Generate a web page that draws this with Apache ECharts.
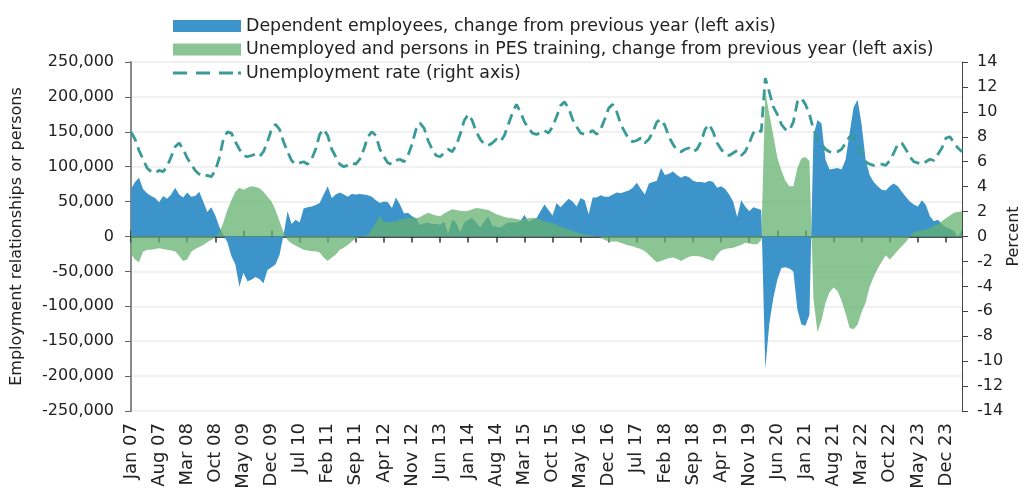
<!DOCTYPE html>
<html>
<head>
<meta charset="utf-8">
<script src="https://cdn.jsdelivr.net/npm/echarts@6/dist/echarts.min.js"></script>
<style>
  html, body { margin: 0; padding: 0; background: #fff; }
  #chart { width: 1021px; height: 488px; }
</style>
</head>
<body>
<div id="chart"></div>
<script>
// monthly, Jan 07 .. Apr 24
var monthNames = ['Jan', 'Feb', 'Mar', 'Apr', 'May', 'Jun', 'Jul', 'Aug', 'Sep', 'Oct', 'Nov', 'Dec'];
var firstYear = 2007;
var lastYear = 2024;
var lastMonth = 3; // Apr

var categories = [];
for (var y = firstYear; y <= lastYear; y++) {
  for (var m = 0; m < 12; m++) {
    if (y === lastYear && m > lastMonth) break;
    categories.push(monthNames[m] + ' ' + String(y).slice(2));
  }
}

// Dependent employees, change from previous year
var dependentEmployees = [
  68000, 78000, 84000, 68000, 62000, 58000, 55000, 49000, 58000, 54000, 60000, 70000,
  60000, 56000, 63000, 57000, 58000, 64000, 50000, 35000, 42000, 30000, 14000, 2000,
  -8000, -28000, -40000, -72000, -52000, -64000, -62000, -58000, -61000, -67000, -48000, -44000,
  -40000, -26000, 2000, 36000, 18000, 24000, 20000, 40000, 42000, 43000, 45000, 48000,
  60000, 72000, 55000, 60000, 63000, 60000, 57000, 61000, 60000, 61000, 60000, 59000,
  57000, 52000, 48000, 50000, 49000, 41000, 56000, 46000, 33000, 34000, 29000, 26000,
  17000, 19000, 20000, 18000, 18000, 17000, 21000, 4000, 24000, 20000, 6000, 20000,
  24000, 27000, 20000, 13000, 22000, 29000, 15000, 14000, 13000, 17000, 20000, 20000,
  20000, 22000, 31000, 21000, 24000, 26000, 36000, 46000, 38000, 30000, 48000, 42000,
  48000, 54000, 50000, 43000, 55000, 52000, 32000, 56000, 56000, 59000, 57000, 57000,
  60000, 63000, 62000, 64000, 66000, 70000, 77000, 68000, 60000, 76000, 78000, 80000,
  98000, 88000, 90000, 93000, 88000, 84000, 87000, 85000, 80000, 78000, 78000, 77000,
  80000, 78000, 70000, 72000, 68000, 60000, 50000, 28000, 52000, 43000, 36000, 42000,
  40000, 38000, -190000, -125000, -88000, -62000, -45000, -44000, -46000, -50000, -105000, -126000,
  -128000, -112000, 145000, 167000, 162000, 110000, 96000, 97000, 98000, 96000, 110000, 148000,
  185000, 196000, 160000, 110000, 88000, 78000, 72000, 67000, 66000, 72000, 76000, 72000,
  64000, 57000, 50000, 46000, 43000, 52000, 45000, 29000, 22000, 24000, 18000, 13000,
  11000, 8000, -2000, 10000
];

// Unemployed and persons in PES training, change from previous year
var unemployedPES = [
  -25000, -33000, -37000, -22000, -19000, -19000, -18000, -17000, -18000, -19000, -20000, -21000,
  -28000, -35000, -33000, -22000, -18000, -15000, -12000, -8000, -5000, -1000, 5000, 20000,
  38000, 52000, 64000, 70000, 67000, 70000, 72000, 71000, 69000, 64000, 57000, 50000,
  38000, 22000, 6000, -5000, -10000, -13000, -16000, -19000, -20000, -21000, -21000, -23000,
  -30000, -35000, -30000, -26000, -19000, -16000, -12000, -7000, -3000, 0, 1000, 2000,
  10000, 20000, 29000, 21000, 20000, 21000, 22000, 24000, 25000, 26000, 27000, 26000,
  28000, 31000, 34000, 32000, 30000, 29000, 33000, 36000, 39000, 38000, 37000, 36000,
  37000, 39000, 41000, 40000, 39000, 38000, 35000, 32000, 30000, 28000, 27000, 26000,
  25000, 24000, 25000, 26000, 27000, 26000, 24000, 22000, 20000, 19000, 17000, 14000,
  12000, 10000, 8000, 6000, 4000, 3000, 2000, 1000, 0, -1000, -5000, -7000,
  -7000, -7000, -9000, -11000, -13000, -14000, -16000, -18000, -21000, -26000, -32000, -37000,
  -35000, -33000, -31000, -30000, -32000, -35000, -32000, -29000, -28000, -28000, -29000, -31000,
  -33000, -35000, -26000, -20000, -18000, -17000, -16000, -14000, -12000, -9000, -10000, -11000,
  -11000, -5000, 208000, 175000, 145000, 113000, 95000, 80000, 72000, 72000, 98000, 112000,
  114000, 108000, -90000, -137000, -120000, -95000, -80000, -73000, -78000, -92000, -110000, -131000,
  -133000, -126000, -108000, -95000, -72000, -58000, -46000, -36000, -27000, -33000, -27000, -20000,
  -14000, -8000, 0, 6000, 8000, 9000, 10000, 12000, 15000, 18000, 22000, 26000,
  30000, 34000, 35000, 36000
];

// Unemployment rate, percent
var unemploymentRate = [
  8.4, 7.8, 6.9, 6.2, 5.5, 5.2, 5.1, 5.3, 5.2, 5.6, 6.4, 7.2,
  7.5, 7.0, 6.3, 5.8, 5.3, 5.0, 4.8, 4.9, 4.8, 5.3, 6.3, 7.8,
  8.4, 8.3, 7.6, 7.0, 6.5, 6.4, 6.5, 6.6, 6.4, 6.8, 7.6, 8.6,
  9.0, 8.6, 7.6, 6.8, 6.1, 5.8, 5.9, 6.0, 5.8, 6.2, 7.0, 8.2,
  8.6, 8.1, 7.0, 6.4, 5.8, 5.6, 5.7, 5.9, 5.8, 6.2, 7.0, 8.0,
  8.4, 8.1, 7.0, 6.4, 5.9, 5.8, 6.1, 6.2, 6.0, 6.5, 7.4, 8.6,
  9.1, 8.7, 7.7, 7.0, 6.5, 6.4, 6.7, 7.0, 6.8, 7.3, 8.2, 9.3,
  9.8, 9.3, 8.4, 7.8, 7.4, 7.3, 7.5, 7.8, 7.6, 8.1, 9.0, 9.9,
  10.6, 10.0, 9.2, 8.7, 8.3, 8.2, 8.3, 8.5, 8.3, 8.8, 9.6, 10.5,
  10.8, 10.3, 9.4, 8.8, 8.3, 8.2, 8.3, 8.5, 8.2, 8.6, 9.4, 10.3,
  10.6, 10.0, 9.0, 8.4, 7.8, 7.6, 7.7, 7.9, 7.5, 7.8, 8.4, 9.2,
  9.4, 8.9, 8.0, 7.4, 6.9, 6.8, 7.0, 7.1, 6.8, 7.0, 7.6, 8.6,
  9.0, 8.4, 7.5, 7.0, 6.6, 6.5, 6.7, 6.9, 6.5, 6.8, 7.5, 8.3,
  8.6, 8.4, 12.7, 11.6, 10.4, 9.8, 9.0, 8.6, 8.5, 9.2, 10.8, 11.1,
  10.6, 9.8, 8.6, 7.8, 7.4, 7.0, 6.8, 6.7, 6.8, 7.0, 7.5, 8.0,
  8.0, 7.4, 6.6, 6.0, 5.8, 5.7, 5.8, 5.8, 5.7, 6.1, 6.7, 7.4,
  7.5, 7.0, 6.4, 6.0, 5.9, 5.8, 6.0, 6.2, 6.1, 6.6, 7.1, 7.9,
  8.0, 7.5, 7.1, 6.8
];

var seriesNames = [
  'Dependent employees, change from previous year (left axis)',
  'Unemployed and persons in PES training, change from previous year (left axis)',
  'Unemployment rate (right axis)'
];

var FONT = 'DejaVu Sans';

// dashed legend icon (68 x 3)
var dashIcon = 'path://M0,0h14v3h-14z M23,0h14v3h-14z M46,0h14v3h-14z M65,0h3v3h-3z';

var chart = echarts.init(document.getElementById('chart'), null, { renderer: 'canvas' });

var option = {
  animation: false,
  textStyle: { fontFamily: FONT },
  grid: { left: 131, right: 59, top: 62, bottom: 77, outerBoundsMode: 'none' },
  legend: {
    orient: 'vertical',
    left: 173,
    top: 16,
    padding: 0,
    itemWidth: 68,
    itemHeight: 12,
    itemGap: 3.5,
    textStyle: { fontFamily: FONT, fontSize: 17.4, color: '#222', lineHeight: 20 },
    data: [
      { name: seriesNames[0], icon: 'rect' },
      { name: seriesNames[1], icon: 'rect' },
      { name: seriesNames[2], icon: dashIcon, itemStyle: { color: '#3a9a97', borderWidth: 0 } }
    ]
  },
  xAxis: [
    {
      type: 'category',
      data: categories,
      boundaryGap: false,
      position: 'bottom',
      axisLine: { show: false, onZero: false },
      axisTick: { show: false },
      axisLabel: {
        interval: 6,
        rotate: 90,
        margin: 12,
        fontSize: 18,
        color: '#222',
        fontFamily: FONT
      },
      splitLine: { show: false }
    },
    {
      type: 'category',
      data: categories,
      boundaryGap: false,
      position: 'bottom',
      axisLine: { show: true, onZero: true, lineStyle: { color: '#4d4d4d', width: 2 } },
      axisTick: { show: true, interval: 6, length: 6, lineStyle: { color: '#333', width: 1.5 } },
      axisLabel: { show: false },
      splitLine: { show: false }
    },
    {
      type: 'category',
      data: categories,
      boundaryGap: false,
      position: 'bottom',
      axisLine: { show: false, onZero: true },
      axisTick: { show: true, inside: true, interval: 6, length: 6, lineStyle: { color: '#333', width: 1.5 } },
      axisLabel: { show: false },
      splitLine: { show: false }
    }
  ],
  yAxis: [
    {
      type: 'value',
      min: -250000,
      max: 250000,
      interval: 50000,
      name: 'Employment relationships or persons',
      nameLocation: 'middle',
      nameRotate: 90,
      nameGap: 106,
      nameMoveOverlap: false,
      nameTextStyle: { fontFamily: FONT, fontSize: 16, color: '#222' },
      axisLine: { show: true, lineStyle: { color: '#8a8a8a', width: 2 } },
      axisTick: { show: true, length: 6, lineStyle: { color: '#666' } },
      axisLabel: {
        fontSize: 16,
        color: '#222',
        margin: 17,
        fontFamily: FONT,
        formatter: function (v) { return v.toLocaleString('en-US'); }
      },
      splitLine: { show: true, lineStyle: { color: '#ececec', width: 1.5 } }
    },
    {
      type: 'value',
      min: -14,
      max: 14,
      interval: 2,
      position: 'right',
      name: 'Percent',
      nameLocation: 'middle',
      nameRotate: 90,
      nameGap: 44,
      nameMoveOverlap: false,
      nameTextStyle: { fontFamily: FONT, fontSize: 16, color: '#222' },
      axisLine: { show: true, lineStyle: { color: '#444', width: 1 } },
      axisTick: { show: true, length: 6, lineStyle: { color: '#444' } },
      axisLabel: { fontSize: 16, color: '#222', margin: 15, fontFamily: FONT },
      splitLine: { show: false }
    }
  ],
  series: [
    {
      name: seriesNames[0],
      type: 'line',
      xAxisIndex: 0,
      yAxisIndex: 0,
      data: dependentEmployees,
      symbol: 'none',
      lineStyle: { width: 0 },
      itemStyle: { color: '#3d94ca' },
      areaStyle: { color: '#3d94ca', opacity: 1 },
      z: 2
    },
    {
      name: seriesNames[1],
      type: 'line',
      xAxisIndex: 0,
      yAxisIndex: 0,
      data: unemployedPES,
      symbol: 'none',
      lineStyle: { width: 0 },
      itemStyle: { color: '#8bc495' },
      areaStyle: { color: 'rgba(100,178,112,0.75)', opacity: 1 },
      z: 3
    },
    {
      name: seriesNames[2],
      type: 'line',
      xAxisIndex: 0,
      yAxisIndex: 1,
      data: unemploymentRate,
      symbol: 'none',
      itemStyle: { color: '#3a9a97' },
      lineStyle: { color: '#3a9a97', width: 2.8, type: [11, 6] },
      z: 4
    }
  ]
};

chart.setOption(option);
window.addEventListener('resize', chart.resize);
</script>
</body>
</html>
